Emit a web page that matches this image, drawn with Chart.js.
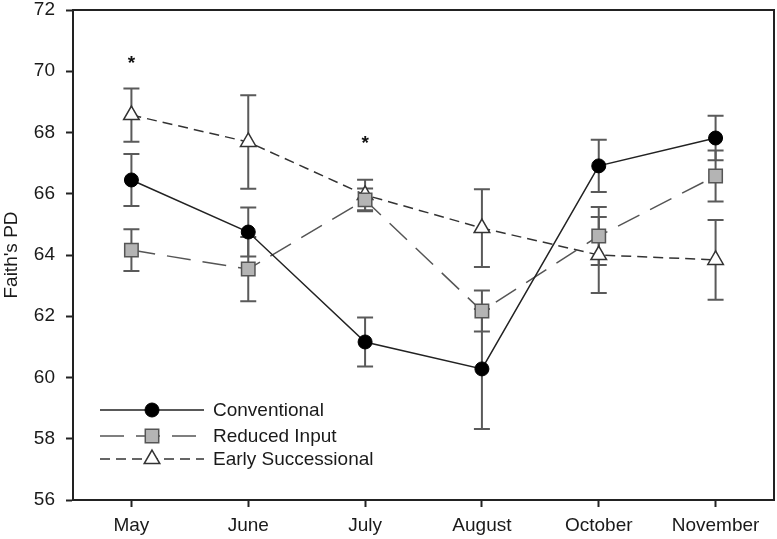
<!DOCTYPE html>
<html>
<head>
<meta charset="utf-8">
<script src="https://cdn.jsdelivr.net/npm/chart.js@4/dist/chart.umd.min.js"></script>
<style>
  html, body { margin: 0; padding: 0; background: #fff; }
  #wrap { width: 777px; height: 539px; }
</style>
</head>
<body>
<div id="wrap"><canvas id="chart" width="777" height="539"></canvas></div>
<script>
// --- dati ---
const months = ['May', 'June', 'July', 'August', 'October', 'November'];
const yTicks = [56, 58, 60, 62, 64, 66, 68, 70, 72];

const conventional = [66.45, 64.75, 61.16, 60.28, 66.91, 67.82];
const conventionalErr = [0.85, 0.8, 0.8, 1.96, 0.85, 0.73];

const reducedInput = [64.16, 63.54, 65.8, 62.17, 64.62, 66.58];
const reducedInputErr = [0.68, 1.05, 0.37, 0.67, 0.95, 0.83];

const earlySucc = [68.57, 67.69, 65.96, 64.88, 64.0, 63.84];
const earlySuccErr = [0.87, 1.53, 0.5, 1.27, 1.24, 1.3];

// asterischi di significativita'
const starY = [70.3, null, 67.7, null, null, null];

const FONT = '"Liberation Sans", Arial, sans-serif';

// barre di errore
const errorBars = {
    id: 'errorBars',
    beforeDatasetsDraw(chart) {
        const ctx = chart.ctx;
        const y = chart.scales.y;
        ctx.save();
        ctx.strokeStyle = '#5a5a5a';
        ctx.lineWidth = 2;
        chart.data.datasets.forEach((ds, i) => {
            const meta = chart.getDatasetMeta(i);
            meta.data.forEach((pt, j) => {
                const e = ds.errors[j];
                const top = y.getPixelForValue(ds.data[j] + e);
                const bot = y.getPixelForValue(ds.data[j] - e);
                ctx.beginPath();
                ctx.moveTo(pt.x, top); ctx.lineTo(pt.x, bot);
                ctx.moveTo(pt.x - 8, top); ctx.lineTo(pt.x + 8, top);
                ctx.moveTo(pt.x - 8, bot); ctx.lineTo(pt.x + 8, bot);
                ctx.stroke();
            });
        });
        ctx.restore();
    }
};

// cornice, asterischi, legenda
const extras = {
    id: 'extras',
    afterDraw(chart) {
        const ctx = chart.ctx;
        const a = chart.chartArea;
        const x = chart.scales.x;
        const y = chart.scales.y;
        ctx.save();
        ctx.strokeStyle = '#222';
        ctx.lineWidth = 2;
        ctx.beginPath();
        ctx.moveTo(a.left, a.top); ctx.lineTo(a.right, a.top); ctx.lineTo(a.right, a.bottom);
        ctx.stroke();

        ctx.fillStyle = '#111';
        ctx.font = 'bold 19px ' + FONT;
        ctx.textAlign = 'center';
        ctx.textBaseline = 'middle';
        starY.forEach((v, i) => {
            if (v === null) return;
            ctx.fillText('*', x.getPixelForValue(i), y.getPixelForValue(v) + 2);
        });

        // legenda
        const rowsY = [410, 436, 459];
        ctx.font = '19px ' + FONT;
        ctx.textAlign = 'left';
        chart.data.datasets.forEach((ds, i) => {
            const ly = rowsY[i];
            ctx.strokeStyle = ds.borderColor;
            ctx.lineWidth = ds.borderWidth;
            ctx.setLineDash(ds.borderDash || []);
            ctx.beginPath();
            ctx.moveTo(100, ly); ctx.lineTo(204, ly);
            ctx.stroke();
            ctx.setLineDash([]);
            ctx.fillStyle = ds.pointBackgroundColor;
            ctx.strokeStyle = ds.pointBorderColor;
            ctx.lineWidth = ds.pointBorderWidth;
            Chart.helpers.drawPoint(ctx, { pointStyle: ds.pointStyle, radius: ds.pointRadius, borderWidth: ds.pointBorderWidth }, 152, ly);
            ctx.fillStyle = '#1a1a1a';
            ctx.fillText(ds.label, 213, ly + 1);
        });
        ctx.restore();
    }
};

function noPad(scale) {
    scale.paddingTop = 0;
    scale.paddingBottom = 0;
    scale.paddingLeft = 0;
    scale.paddingRight = 0;
}

new Chart(document.getElementById('chart'), {
    type: 'line',
    data: {
        labels: months,
        datasets: [
            {
                label: 'Conventional',
                data: conventional,
                errors: conventionalErr,
                borderColor: '#222',
                borderWidth: 1.5,
                pointStyle: 'circle',
                pointRadius: 7,
                pointBackgroundColor: '#000',
                pointBorderColor: '#000',
                pointBorderWidth: 1
            },
            {
                label: 'Reduced Input',
                data: reducedInput,
                errors: reducedInputErr,
                borderColor: '#555',
                borderWidth: 1.5,
                borderDash: [24, 12],
                pointStyle: 'rect',
                pointRadius: 9.5,
                pointBackgroundColor: '#b4b4b4',
                pointBorderColor: '#555',
                pointBorderWidth: 1.5
            },
            {
                label: 'Early Successional',
                data: earlySucc,
                errors: earlySuccErr,
                borderColor: '#333',
                borderWidth: 1.5,
                borderDash: [10, 6],
                pointStyle: 'triangle',
                pointRadius: 9,
                pointBackgroundColor: '#fff',
                pointBorderColor: '#333',
                pointBorderWidth: 1.5
            }
        ]
    },
    options: {
        responsive: false,
        animation: false,
        layout: { autoPadding: false, padding: { top: 10, right: 3, left: 0, bottom: 0 } },
        plugins: {
            legend: { display: false },
            tooltip: { enabled: false }
        },
        scales: {
            x: {
                offset: true,
                grid: { display: true, drawOnChartArea: false, tickLength: 7, tickColor: '#222', tickWidth: 2, offset: false },
                border: { color: '#222', width: 2 },
                ticks: { color: '#1a1a1a', font: { family: FONT, size: 19 }, padding: 7, maxRotation: 0 },
                afterFit(scale) { scale.height = 39; noPad(scale); }
            },
            y: {
                min: 56,
                max: 72,
                afterBuildTicks(scale) { scale.ticks = yTicks.map(v => ({ value: v })); },
                grid: { drawOnChartArea: false, tickLength: 7, tickColor: '#222', tickWidth: 2 },
                border: { color: '#222', width: 2 },
                ticks: { color: '#1a1a1a', font: { family: FONT, size: 19 }, padding: 11 },
                title: { display: true, text: "Faith's PD", color: '#1a1a1a', font: { family: FONT, size: 19 }, padding: 0 },
                afterFit(scale) { scale.width = 73; noPad(scale); }
            }
        }
    },
    plugins: [errorBars, extras]
});
</script>
</body>
</html>
